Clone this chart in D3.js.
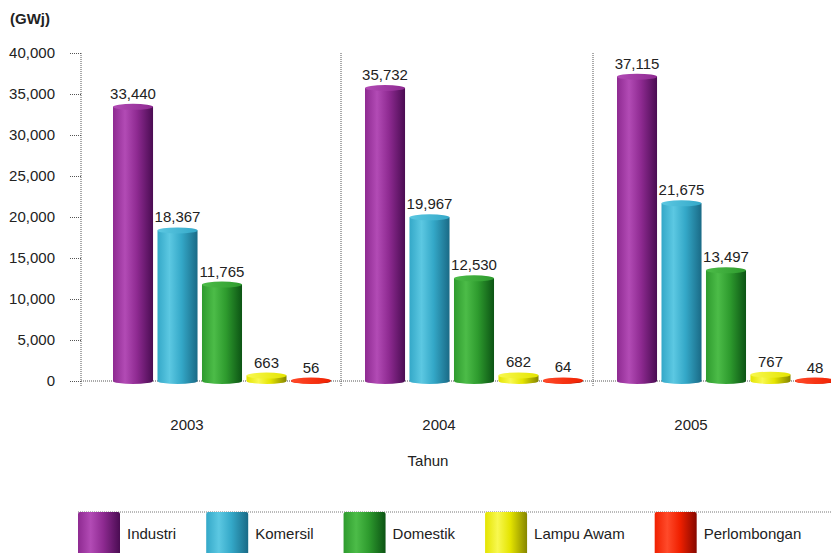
<!DOCTYPE html>
<html>
<head>
<meta charset="utf-8">
<script src="https://cdn.jsdelivr.net/npm/d3@7"></script>
<style>
  html, body { margin: 0; padding: 0; background: #ffffff; }
  svg { display: block; font-family: "Liberation Sans", Arial, sans-serif; }
</style>
</head>
<body>
<svg id="chart" width="831" height="553"></svg>
<script>
// Penggunaan tenaga elektrik mengikut sektor (GWj)
const years = ["2003", "2004", "2005"];
const sectors = ["Industri", "Komersil", "Domestik", "Lampu Awam", "Perlombongan"];
const industri = [33440, 35732, 37115];
const komersil = [18367, 19967, 21675];
const domestik = [11765, 12530, 13497];
const lampuAwam = [663, 682, 767];
const perlombongan = [56, 64, 48];
const yTicks = [0, 5000, 10000, 15000, 20000, 25000, 30000, 35000, 40000];

// light / base / dark shade of each sector's cylinder
const sectorColors = [
  ["#b24bb5", "#8e2a91", "#4a0c52"],
  ["#5cc8e2", "#34a8c8", "#1a6a86"],
  ["#4cbc48", "#2e9b2e", "#0c5414"],
  ["#f8f850", "#e4e400", "#868600"],
  ["#ff4a2a", "#f02000", "#860800"]
];

const seriesValues = [industri, komersil, domestik, lampuAwam, perlombongan];

const svg = d3.select("#chart");
const defs = svg.append("defs");

sectorColors.forEach((c, i) => {
  const g = defs.append("linearGradient").attr("id", "body" + i)
    .attr("x1", "0%").attr("x2", "100%").attr("y1", "0%").attr("y2", "0%");
  g.append("stop").attr("offset", "0%").attr("stop-color", c[1]);
  g.append("stop").attr("offset", "30%").attr("stop-color", c[0]);
  g.append("stop").attr("offset", "60%").attr("stop-color", c[1]);
  g.append("stop").attr("offset", "100%").attr("stop-color", c[2]);
  const t = defs.append("linearGradient").attr("id", "cap" + i)
    .attr("x1", "0%").attr("x2", "100%").attr("y1", "0%").attr("y2", "0%");
  t.append("stop").attr("offset", "0%").attr("stop-color", c[0]);
  t.append("stop").attr("offset", "100%").attr("stop-color", c[1]);
});

const y = d3.scaleLinear().domain([0, 40000]).range([381, 53]);
const x0 = d3.scaleBand().domain(years).range([89, 845]);
const x1 = d3.scaleBand().domain(sectors).range([24, 242]).paddingInner(0.1);

const dotted = "1,1";
const lineColor = "#555";

// value axis
const yAxis = d3.axisLeft(y).tickValues(yTicks).tickFormat(d3.format(","))
  .tickSize(11).tickPadding(15);
const ga = svg.append("g").attr("transform", "translate(81,0)").call(yAxis);
ga.select(".domain").attr("stroke", lineColor).attr("stroke-dasharray", dotted)
  .attr("d", `M0,${y(40000)}V${y(0) + 5}`);
ga.selectAll(".tick line").attr("stroke", lineColor).attr("stroke-dasharray", dotted);
ga.selectAll(".tick text").attr("font-size", 15).attr("fill", "#222");

// unit label
svg.append("text").attr("x", 10).attr("y", 24)
  .attr("font-size", 15).attr("font-weight", "bold").attr("fill", "#222")
  .text("(GWj)");

// baseline
svg.append("line").attr("x1", 81).attr("x2", 831)
  .attr("y1", y(0)).attr("y2", y(0))
  .attr("stroke", lineColor).attr("stroke-dasharray", dotted);

// separators between years
svg.selectAll(".sep").data(years.slice(1)).join("line")
  .attr("class", "sep")
  .attr("x1", d => x0(d)).attr("x2", d => x0(d))
  .attr("y1", y(40000)).attr("y2", y(0) + 5)
  .attr("stroke", lineColor).attr("stroke-dasharray", dotted);

// cylinders
const ry = 3;
const bw = x1.bandwidth();
const bars = [];
years.forEach((yr, yi) => {
  sectors.forEach((s, si) => {
    bars.push({ year: yr, sector: s, si, value: seriesValues[si][yi] });
  });
});

const gb = svg.append("g");
const cyl = gb.selectAll("g.cyl").data(bars).join("g").attr("class", "cyl")
  .attr("transform", d => `translate(${x0(d.year) + x1(d.sector)},0)`);

cyl.append("ellipse")
  .attr("cx", bw / 2).attr("cy", y(0)).attr("rx", bw / 2).attr("ry", ry)
  .attr("fill", d => `url(#body${d.si})`);
cyl.append("rect")
  .attr("x", 0).attr("width", bw)
  .attr("y", d => y(d.value)).attr("height", d => y(0) - y(d.value))
  .attr("fill", d => `url(#body${d.si})`);
cyl.append("ellipse")
  .attr("cx", bw / 2).attr("cy", d => y(d.value)).attr("rx", bw / 2).attr("ry", ry)
  .attr("fill", d => `url(#cap${d.si})`);

// value labels
cyl.append("text")
  .attr("x", bw / 2).attr("y", d => y(d.value) - 8)
  .attr("text-anchor", "middle").attr("font-size", 15).attr("fill", "#222")
  .text(d => d3.format(",")(d.value));

// category labels
svg.selectAll(".year").data(years).join("text")
  .attr("class", "year")
  .attr("x", d => x0(d) + x0.bandwidth() / 2 - 28).attr("y", 430)
  .attr("text-anchor", "middle").attr("font-size", 15).attr("fill", "#222")
  .text(d => d);

svg.append("text").attr("x", 428).attr("y", 466)
  .attr("text-anchor", "middle").attr("font-size", 15).attr("fill", "#222")
  .text("Tahun");

// legend
const legendTop = 512;
svg.append("line").attr("x1", 78).attr("x2", 831)
  .attr("y1", legendTop).attr("y2", legendTop)
  .attr("stroke", "#777").attr("stroke-dasharray", dotted);

const lg = svg.append("g");
let lx = 78;
sectors.forEach((s, i) => {
  lg.append("rect").attr("x", lx).attr("y", legendTop).attr("width", 42).attr("height", 50)
    .attr("rx", 2).attr("fill", `url(#body${i})`);
  const t = lg.append("text").attr("x", lx + 49).attr("y", legendTop + 27)
    .attr("font-size", 15).attr("fill", "#222").text(s);
  lx = lx + 49 + t.node().getComputedTextLength() + 30;
});
</script>
</body>
</html>
